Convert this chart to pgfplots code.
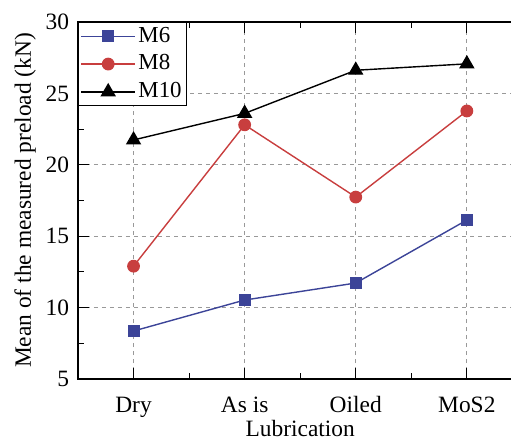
\documentclass[border=0pt]{standalone}
\usepackage{pgfplots}
\pgfplotsset{compat=1.18}
\usepackage{fontspec}
\setmainfont{Liberation Serif}
\definecolor{cM6}{RGB}{60,68,152}
\definecolor{cM8}{RGB}{200,62,62}
\begin{document}
\fontsize{23.5}{27}\selectfont
\begin{tikzpicture}
\path[use as bounding box] (-78bp,-62bp) rectangle (433bp,379bp);
\begin{axis}[
  at={(0,0)}, anchor=south west,
  scale only axis,
  width=444.4bp, height=357bp,
  xmin=-0.5, xmax=3.5,
  ymin=5, ymax=30,
  xtick={0,1,2,3},
  xticklabels={Dry,As is,Oiled,MoS2},
  minor x tick num=1,
  ytick={5,10,15,20,25,30},
  minor y tick num=1,
  tick align=inside,
  major tick length=11bp,
  minor tick length=6bp,
  every tick/.style={black, line width=1.1bp},
  axis line style={line width=1.3bp},
  grid=major,
  major grid style={gray!80, line width=0.9bp, dash pattern=on 4bp off 4bp},
  xlabel={Lubrication},
  ylabel={Mean of the measured preload (kN)},
  xlabel style={at={(axis description cs:0.5,0)}, anchor=base, yshift=-57bp},
  ylabel style={at={(axis description cs:-0.119,0.5)}, anchor=center, rotate=0},
  /pgf/number format/assume math mode=true,
  ticklabel style={font=\fontsize{23.5}{27}\selectfont},
  xticklabel style={anchor=base, yshift=-33bp},
  yticklabel style={xshift=-1bp},
  label style={font=\fontsize{23.5}{27}\selectfont},
  legend style={at={(0,1)}, anchor=north west, draw=black, line width=1bp,
    font=\fontsize{23}{27}\selectfont, inner xsep=2bp, inner ysep=2bp,
    legend cell align=left, row sep=4bp,
    nodes={inner sep=2.5bp}},
  legend image code/.code={\draw[mark repeat=2,mark phase=2] plot coordinates {(0bp,0bp) (27bp,0bp) (54bp,0bp)};},
]
\addplot[cM6, line width=1.4bp, mark=square*, mark size=5.3bp, mark options={fill=cM6}]
  coordinates {(0,8.36) (1,10.53) (2,11.72) (3,16.13)};
\addlegendentry{M6}
\addplot[cM8, line width=1.4bp, mark=*, mark size=5.7bp, mark options={fill=cM8}]
  coordinates {(0,12.9) (1,22.8) (2,17.74) (3,23.77)};
\addlegendentry{M8}
\addplot[black, line width=1.4bp, mark=triangle*, mark size=7.5bp, mark options={fill=black}]
  coordinates {(0,21.74) (1,23.6) (2,26.62) (3,27.07)};
\addlegendentry{M10}
\end{axis}
\end{tikzpicture}
\end{document}
